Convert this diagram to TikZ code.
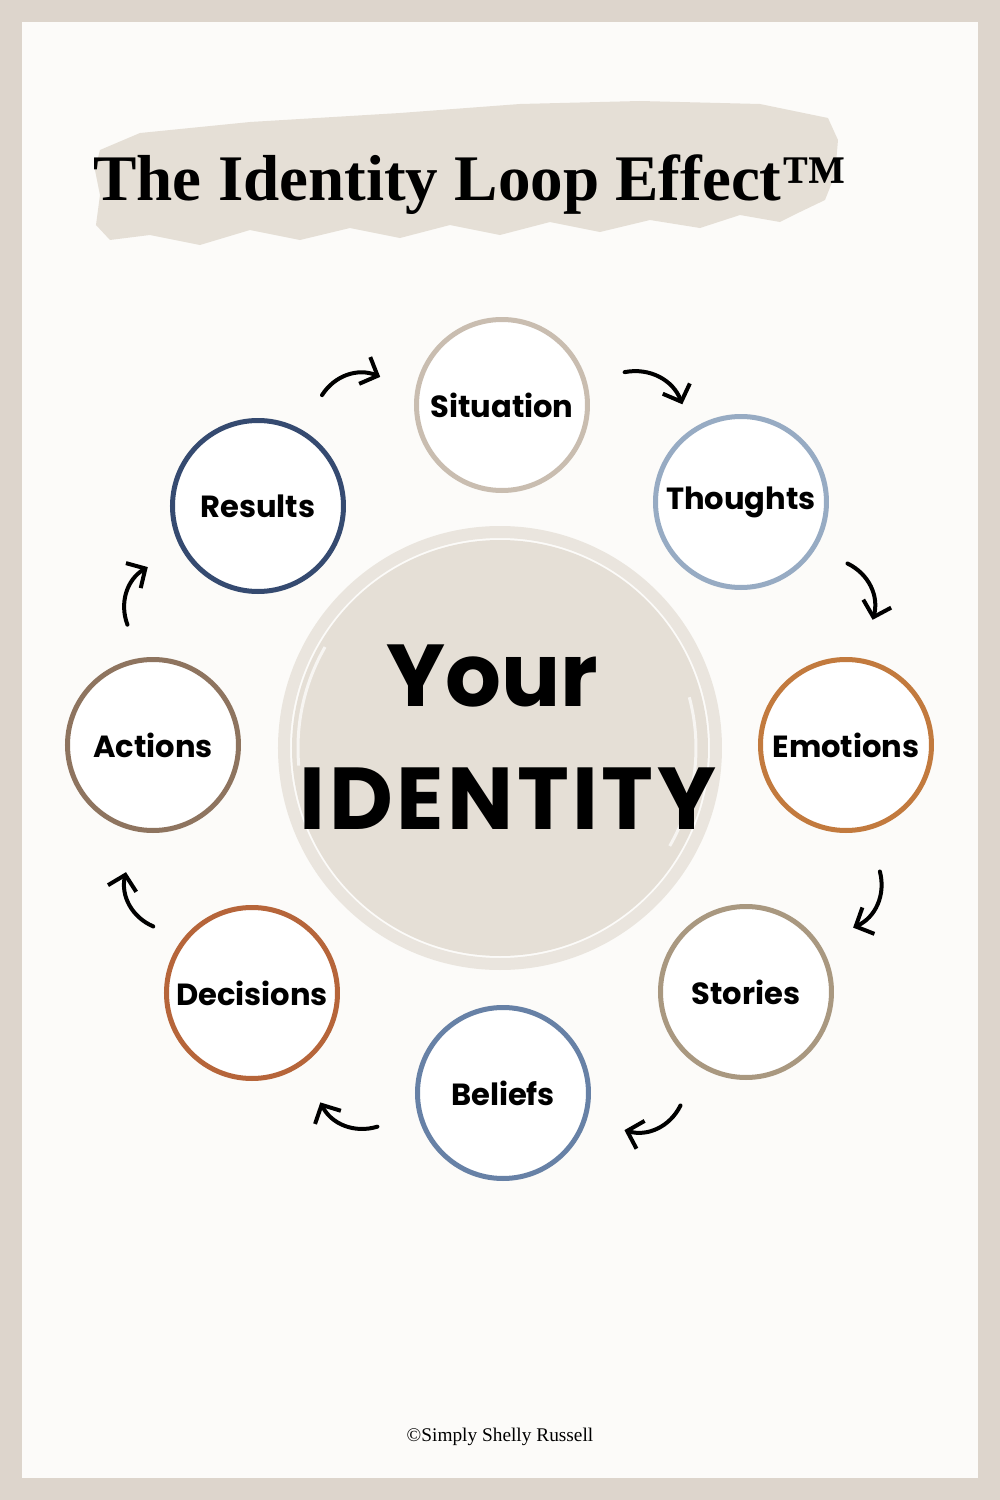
\documentclass[tikz,border=0pt]{standalone}
\usepackage{fontspec}
\usepackage{tikz}
\usepackage{xcolor}
\usetikzlibrary{arrows.meta}
\setmainfont{Liberation Serif}
\newfontfamily\stagefont{Poppins}
\definecolor{framebeige}{HTML}{DDD5CC}
\definecolor{paper}{HTML}{FCFBF9}
\definecolor{brushbeige}{HTML}{E5DFD6}
\definecolor{sitcol}{HTML}{C9BDB0}
\definecolor{thocol}{HTML}{97ABC3}
\definecolor{emocol}{HTML}{C27A3E}
\definecolor{stocol}{HTML}{A99880}
\definecolor{belcol}{HTML}{6781A6}
\definecolor{deccol}{HTML}{B6653A}
\definecolor{actcol}{HTML}{8E745F}
\definecolor{rescol}{HTML}{354A70}

\begin{document}
\begin{tikzpicture}[
  stage/.style={circle, draw, line width=0.5mm, fill=white, minimum size=17.1mm, inner sep=0pt, font=\stagefont\bfseries\fontsize{8.7}{10}\selectfont},
  core/.style={circle, fill=brushbeige, minimum size=41.6mm, inner sep=0pt},
  bigword/.style={anchor=base, font=\stagefont\bfseries\fontsize{25}{30}\selectfont},
  arr/.style={-{Straight Barb[length=1.4mm,width=2.9mm]}, line width=0.4mm, line cap=round, line join=round}
]

\useasboundingbox (-5,-7.52) rectangle (5,7.48);
\fill[framebeige] (-5,-7.52) rectangle (5,7.48);
\fill[paper] (-4.78,-7.30) rectangle (4.78,7.26);

% title brush stroke
\fill[brushbeige] (-4.00,5.98) -- (-3.60,6.15) -- (-2.50,6.26) -- (-1.00,6.35) -- (0.20,6.44) -- (1.40,6.47) -- (2.60,6.44) -- (3.28,6.30)
  -- (3.38,6.08) -- (3.35,5.73) -- (3.25,5.48) -- (3.00,5.36) -- (2.80,5.26) -- (2.40,5.33) -- (2.00,5.20) -- (1.50,5.28)
  -- (1.00,5.16) -- (0.50,5.26) -- (0.00,5.13) -- (-0.50,5.23) -- (-1.00,5.10) -- (-1.50,5.20) -- (-2.00,5.08) -- (-2.50,5.18)
  -- (-3.00,5.03) -- (-3.50,5.13) -- (-3.90,5.08) -- (-4.04,5.23) -- (-4.00,5.53) -- (-4.05,5.78) -- cycle;
\node[anchor=base, font=\bfseries\fontsize{18.5}{22}\selectfont] (title) at (-0.30,5.48) {The Identity Loop Effect™};

% centre
\node[core] (id) at (0,0) {};
\draw[brushbeige!80!white, line width=1.2mm] (id.center) circle[radius=2.16];
\draw[white, line width=0.3mm, opacity=0.7] (id.center) ++(15:1.96) arc[start angle=15, end angle=-30, radius=1.96];
\draw[white, line width=0.3mm, opacity=0.7] (id.center) ++(150:2.02) arc[start angle=150, end angle=185, radius=2.02];
\node[bigword] (your) at (-0.08,0.42) {Your};
\node[bigword, font=\stagefont\bfseries\fontsize{25}{30}\selectfont\addfontfeature{LetterSpace=4}] (identity) at (0.08,-0.81) {IDENTITY};

\node[stage, draw=sitcol] (sit) at (0.02,3.43) {Situation};
\node[stage, draw=thocol] (tho) at (2.41,2.46) {Thoughts};
\node[stage, draw=emocol] (emo) at (3.46,0.03) {Emotions};
\node[stage, draw=stocol] (sto) at (2.46,-2.44) {Stories};
\node[stage, draw=belcol] (bel) at (0.03,-3.45) {Beliefs};
\node[stage, draw=deccol] (dec) at (-2.48,-2.45) {Decisions};
\node[stage, draw=actcol] (act) at (-3.47,0.03) {Actions};
\node[stage, draw=rescol] (res) at (-2.42,2.42) {Results};

% arrow ends, just outside the circles
\coordinate (resOut) at ([shift={(60:1.28)}]res.center);
\coordinate (sitIn) at ([shift={(167:1.25)}]sit.center);
\coordinate (sitOut) at ([shift={(15:1.27)}]sit.center);
\coordinate (thoIn) at ([shift={(121:1.14)}]tho.center);
\coordinate (thoOut) at ([shift={(-30:1.23)}]tho.center);
\coordinate (emoIn) at ([shift={(78:1.28)}]emo.center);
\coordinate (emoOut) at ([shift={(-75:1.31)}]emo.center);
\coordinate (stoIn) at ([shift={(31:1.25)}]sto.center);
\coordinate (stoOut) at ([shift={(-120:1.31)}]sto.center);
\coordinate (belIn) at ([shift={(-17:1.27)}]bel.center);
\coordinate (belOut) at ([shift={(195:1.30)}]bel.center);
\coordinate (decIn) at ([shift={(-58:1.29)}]dec.center);
\coordinate (decOut) at ([shift={(146:1.19)}]dec.center);
\coordinate (actIn) at ([shift={(-102:1.30)}]act.center);
\coordinate (actOut) at ([shift={(102:1.23)}]act.center);
\coordinate (resIn) at ([shift={(209:1.26)}]res.center);

\draw[arr] (resOut) to[bend left=40] (sitIn);
\draw[arr] (sitOut) to[bend left=40] (thoIn);
\draw[arr] (thoOut) to[bend left=40] (emoIn);
\draw[arr] (emoOut) to[bend left=40] (stoIn);
\draw[arr] (stoOut) to[bend left=40] (belIn);
\draw[arr] (belOut) to[bend left=40] (decIn);
\draw[arr] (decOut) to[bend left=40] (actIn);
\draw[arr] (actOut) to[bend left=40] (resIn);

\node[anchor=base, font=\fontsize{5.5}{6}\selectfont] (credit) at (0,-6.93) {©Simply Shelly Russell};

\end{tikzpicture}
\end{document}
